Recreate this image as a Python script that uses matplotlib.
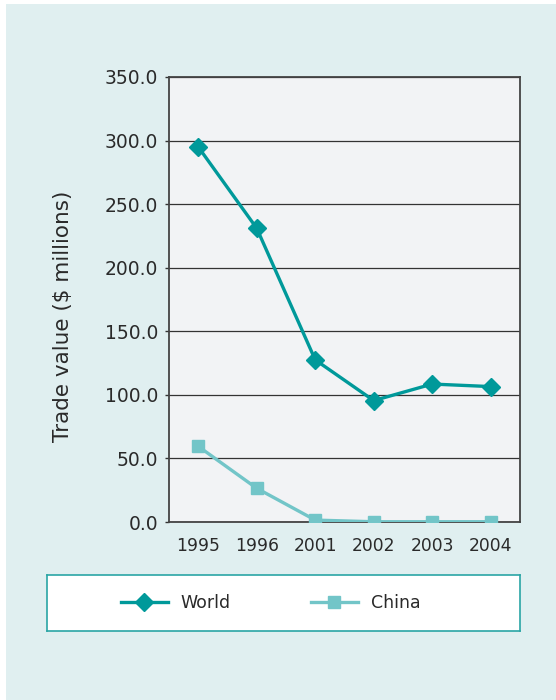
import matplotlib
matplotlib.use("Agg")
import matplotlib.pyplot as plt
from matplotlib.patches import Rectangle
from matplotlib.lines import Line2D

years = ["1995", "1996", "2001", "2002", "2003", "2004"]
world = [295.0, 231.0, 127.5, 95.5, 108.5, 106.5]
china = [59.5, 26.5, 1.5, 0.2, 0.2, 0.2]
yticks = [0, 50, 100, 150, 200, 250, 300, 350]

W, H = 556, 700
fig = plt.figure(figsize=(W / 100, H / 100), dpi=100)
fig.patch.set_facecolor("white")
bg = Rectangle((6 / W, 0), 1 - 6 / W, 1 - 4 / H, transform=fig.transFigure,
               facecolor="#e0eff0", edgecolor="none", zorder=-10)
fig.patches.append(bg)

ax = fig.add_axes([169 / W, 1 - 522 / H, (520 - 169) / W, (522 - 77) / H])
ax.set_zorder(1)
ax.set_facecolor("#f2f3f5")
x = list(range(len(years)))
ax.plot(x, world, color="#00999a", lw=2.4, marker="D", ms=9, zorder=3, label="World")
ax.plot(x, china, color="#72c5c8", lw=2.4, marker="s", ms=9, zorder=3, label="China")
ax.set_xlim(-0.5, len(years) - 0.5)
ax.set_ylim(0, 350)
ax.set_yticks(yticks)
ax.set_yticklabels([f"{v:.1f}" for v in yticks], fontsize=13.5, color="#2a2a2a")
ax.set_xticks(x)
ax.set_xticklabels(years, fontsize=12.3, color="#2a2a2a")
ax.tick_params(axis="y", length=3, width=1, color="#333333", pad=5)
ax.tick_params(axis="x", length=0, pad=11)
ax.yaxis.grid(True, color="#333333", lw=0.9)
ax.set_axisbelow(True)
for s in ax.spines.values():
    s.set_color("#444444")
    s.set_linewidth(1.3)
ax.set_ylabel("Trade value ($ millions)", fontsize=15.5, color="#2a2a2a")
ax.yaxis.set_label_coords((73 - 169) / 351, (522 - 316) / 445)

lax = fig.add_axes([47 / W, 1 - 631 / H, (520 - 47) / W, (631 - 575) / H])
lax.set_zorder(1)
lax.set_xlim(0, 473)
lax.set_ylim(0, 56)
lax.set_xticks([])
lax.set_yticks([])
lax.set_facecolor("white")
for s in lax.spines.values():
    s.set_color("#2aa5a5")
    s.set_linewidth(1.2)
handles = [Line2D([], [], color="#00999a", lw=2.4, marker="D", ms=9),
           Line2D([], [], color="#72c5c8", lw=2.4, marker="s", ms=9)]
lax.legend(handles, ["World", "China"], loc="center left",
           bbox_to_anchor=((121 - 47) / 473, 0.5), borderaxespad=0, borderpad=0,
           ncol=2, frameon=False,
           fontsize=12.5, handlelength=2.7, columnspacing=4.6, handletextpad=0.75,
           labelcolor="#2a2a2a")

fig.savefig("out.png", dpi=100, facecolor=fig.get_facecolor())
